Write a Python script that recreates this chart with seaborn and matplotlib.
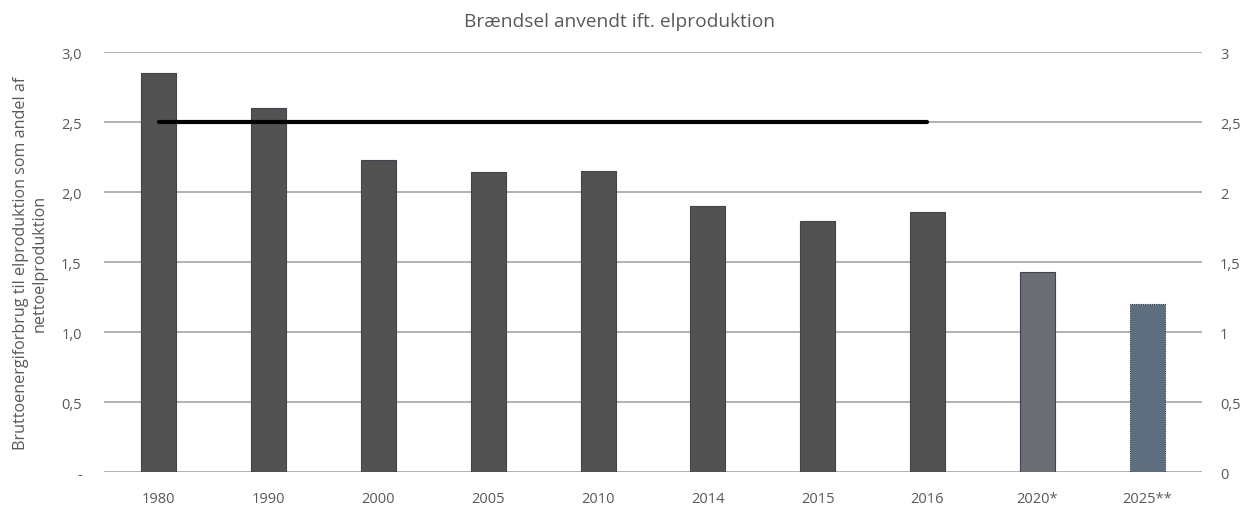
import numpy as np
import pandas as pd
import matplotlib
matplotlib.use("Agg")
import matplotlib.pyplot as plt
import seaborn as sns
from matplotlib.ticker import FixedLocator

# Data
years = ["1980", "1990", "2000", "2005", "2010", "2014", "2015", "2016", "2020*", "2025**"]
ratio = [2.85, 2.60, 2.23, 2.14, 2.15, 1.90, 1.79, 1.86, 1.43, 1.20]
reference_level = [2.5, 2.5, 2.5, 2.5, 2.5, 2.5, 2.5, 2.5]  # 1980-2016
left_ticks = [0, 0.5, 1.0, 1.5, 2.0, 2.5, 3.0]
left_labels = ["-", "0,5", "1,0", "1,5", "2,0", "2,5", "3,0"]
right_labels = ["0", "0,5", "1", "1,5", "2", "2,5", "3"]

bar_colors = ["#525252"] * 8 + ["#6b6e75", "#5f6e7e"]

sns.set_theme(style="white")
plt.rcParams["font.family"] = ["Open Sans", "DejaVu Sans"]
text_col = "#595959"

fig = plt.figure(figsize=(12.56, 5.10), dpi=100)
ax = fig.add_axes([0.0828, 0.0725, 0.8742, 0.8235])

df = pd.DataFrame({"year": years, "ratio": ratio})
sns.barplot(data=df, x="year", y="ratio", hue="year", palette=bar_colors,
            width=0.32, legend=False, ax=ax, saturation=1,
            edgecolor="#3c4550", linewidth=0.8)

# Projection bar gets a dotted outline
last = ax.patches[-1]
last.set_linestyle((0, (1, 1)))
last.set_edgecolor("#2e3640")

# Reference line
ax.plot(np.arange(len(reference_level)), reference_level, color="black",
        lw=3, solid_capstyle="round", zorder=5)

ax.set_xlim(-0.5, len(years) - 0.5)
ax.set_ylim(0, 3.0)
ax.yaxis.set_major_locator(FixedLocator(left_ticks))
ax.set_yticklabels(left_labels)
ax.grid(axis="y", color="#a6a6a6", lw=1.2)
ax.set_axisbelow(True)
for s in ax.spines.values():
    s.set_visible(False)
ax.tick_params(axis="both", length=0, labelsize=10.5, colors=text_col)
ax.tick_params(axis="y", pad=16)
ax.tick_params(axis="x", pad=14)
ax.set_xlabel("")
ax.set_ylabel("Bruttoenergiforbrug til elproduktion som andel af\nnettoelproduktion",
              fontsize=11.6, color=text_col, labelpad=10, linespacing=1.15)

fig.text(0.493, 1 - 27 / 510, "Brændsel anvendt ift. elproduktion",
         fontsize=13.8, color=text_col, ha="center", va="baseline")

ax2 = ax.twinx()
ax2.set_ylim(0, 3.0)
ax2.yaxis.set_major_locator(FixedLocator(left_ticks))
ax2.set_yticklabels(right_labels)
ax2.tick_params(axis="y", length=0, labelsize=10.5, colors=text_col, pad=13)
ax2.grid(False)
for s in ax2.spines.values():
    s.set_visible(False)

fig.savefig("out.png", dpi=100)
